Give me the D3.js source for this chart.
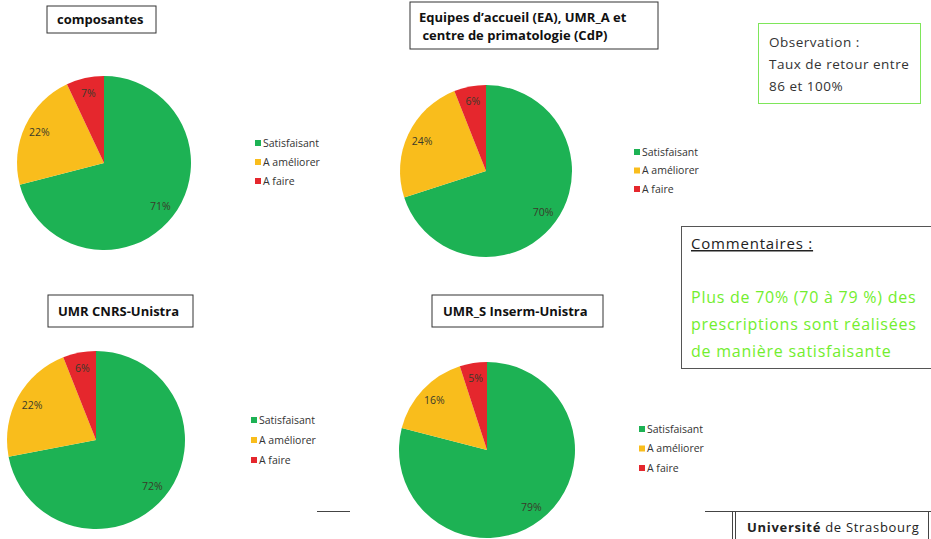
<!DOCTYPE html>
<html>
<head>
<meta charset="utf-8">
<script src="https://cdn.jsdelivr.net/npm/d3@7"></script>
<style>
  body { margin: 0; background: #fff; }
  svg { display: block; }
  text { font-family: "Open Sans", sans-serif; }
</style>
</head>
<body>
<svg id="chart" width="931" height="539"></svg>
<script>
// Data
const categories = ['Satisfaisant', 'A améliorer', 'A faire'];
const titles = [
    ['composantes'],
    ['Equipes d\u2019accueil (EA), UMR_A et', ' centre de primatologie (CdP)'],
    ['UMR CNRS-Unistra'],
    ['UMR_S Inserm-Unistra']
];
const valuesComposantes = [71, 22, 7];
const valuesEA = [70, 24, 6];
const valuesCNRS = [72, 22, 6];
const valuesInserm = [79, 16, 5];
const series = [valuesComposantes, valuesEA, valuesCNRS, valuesInserm];
const observation = ['Observation :', 'Taux de retour entre', '86 et 100%'];
const commentTitle = 'Commentaires :';
const commentLines = ['Plus de 70% (70 à 79 %) des', 'prescriptions sont réalisées', 'de manière satisfaisante'];

// Layout of each panel (pie center, radius, legend, title box)
const panels = [
    { cx: 104, cy: 163, r: 87, lx: 255, ly: 143, ls: 19, box: [47, 6, 109, 27], tx: 57, ty: 24 },
    { cx: 486, cy: 171, r: 86, lx: 634, ly: 152, ls: 18.5, box: [410, 2, 248, 47], tx: 419, ty: 22 },
    { cx: 96, cy: 440, r: 89, lx: 251, ly: 420, ls: 20, box: [48, 295, 145, 32], tx: 58, ty: 316 },
    { cx: 487, cy: 450, r: 88, lx: 639, ly: 429, ls: 19.5, box: [432, 295, 171, 32], tx: 443, ty: 316 }
];

const color = d3.scaleOrdinal()
    .domain(categories)
    .range(['#1db254', '#f9bd1c', '#e5272d']);

const svg = d3.select('svg#chart');
const pie = d3.pie().sort(null).value(d => d.v);

panels.forEach((p, i) => {
    let data = categories.map((c, k) => ({ c: c, v: series[i][k] }));
    let arcs = pie(data);
    let arc = d3.arc().innerRadius(0).outerRadius(p.r);
    let labelArc = d3.arc().innerRadius(p.r * 0.82).outerRadius(p.r * 0.82);

    let g = svg.append('g').attr('transform', 'translate(' + p.cx + ',' + p.cy + ')');
    g.selectAll('path')
        .data(arcs)
        .enter().append('path')
        .attr('d', arc)
        .attr('fill', d => color(d.data.c));
    g.selectAll('text')
        .data(arcs)
        .enter().append('text')
        .attr('transform', d => 'translate(' + labelArc.centroid(d) + ')')
        .attr('text-anchor', 'middle')
        .attr('dy', '0.35em')
        .attr('font-size', 10.5)
        .attr('fill', '#3a3a2a')
        .text(d => d.data.v + '%');

    // legend
    let lg = svg.append('g').attr('transform', 'translate(' + p.lx + ',' + p.ly + ')');
    categories.forEach((c, k) => {
        lg.append('rect')
            .attr('x', 0).attr('y', k * p.ls - 3)
            .attr('width', 6).attr('height', 6)
            .attr('fill', color(c));
        lg.append('text')
            .attr('x', 8).attr('y', k * p.ls)
            .attr('dy', '0.35em')
            .attr('font-size', 10.5)
            .attr('fill', '#333')
            .text(c);
    });

    // title box
    svg.append('rect')
        .attr('x', p.box[0]).attr('y', p.box[1])
        .attr('width', p.box[2]).attr('height', p.box[3])
        .attr('fill', '#fff').attr('stroke', '#333').attr('stroke-width', 1);
    titles[i].forEach((t, k) => {
        svg.append('text')
            .attr('x', p.tx).attr('y', p.ty + k * 18)
            .attr('font-size', 13).attr('font-weight', 'bold')
            .attr('fill', '#111')
            .attr('xml:space', 'preserve')
            .style('white-space', 'pre')
            .text(t);
    });
});

// Observation box
svg.append('rect')
    .attr('x', 758.5).attr('y', 23.5).attr('width', 162).attr('height', 80)
    .attr('fill', '#fff').attr('stroke', '#7ee65a').attr('stroke-width', 1);
observation.forEach((t, k) => {
    svg.append('text')
        .attr('x', 769).attr('y', 47 + k * 22)
        .attr('font-family', 'Noto Sans')
        .attr('font-size', 13.5).attr('fill', '#333')
        .attr('letter-spacing', 0.5)
        .text(t);
});

// Commentaires box
svg.append('rect')
    .attr('x', 681.5).attr('y', 226.5).attr('width', 260).attr('height', 142)
    .attr('fill', '#fff').attr('stroke', '#555').attr('stroke-width', 1);
svg.append('text')
    .attr('x', 691).attr('y', 249)
    .attr('font-family', 'Noto Sans')
    .attr('font-size', 15).attr('fill', '#222')
    .attr('letter-spacing', 0.8)
    .attr('text-decoration', 'underline')
    .text(commentTitle);
commentLines.forEach((t, k) => {
    svg.append('text')
        .attr('x', 691).attr('y', 303 + k * 27)
        .attr('font-family', 'Noto Sans')
        .attr('font-size', 16).attr('fill', '#72ee2e')
        .attr('letter-spacing', 0.75)
        .text(t);
});

// footer lines and logo text
svg.append('line')
    .attr('x1', 317).attr('x2', 350).attr('y1', 511.5).attr('y2', 511.5)
    .attr('stroke', '#444');
svg.append('line')
    .attr('x1', 705).attr('x2', 931).attr('y1', 511.5).attr('y2', 511.5)
    .attr('stroke', '#444');
[732.5, 735.5, 928.5].forEach(x => {
    svg.append('line')
        .attr('x1', x).attr('x2', x).attr('y1', 511).attr('y2', 539)
        .attr('stroke', '#444');
});
let uni = svg.append('text')
    .attr('x', 747).attr('y', 532)
    .attr('font-family', 'Noto Sans')
    .attr('font-size', 13).attr('fill', '#222')
    .attr('letter-spacing', 0.7);
uni.append('tspan').attr('font-weight', 'bold').text('Université');
uni.append('tspan').text(' de Strasbourg');
</script>
</body>
</html>
